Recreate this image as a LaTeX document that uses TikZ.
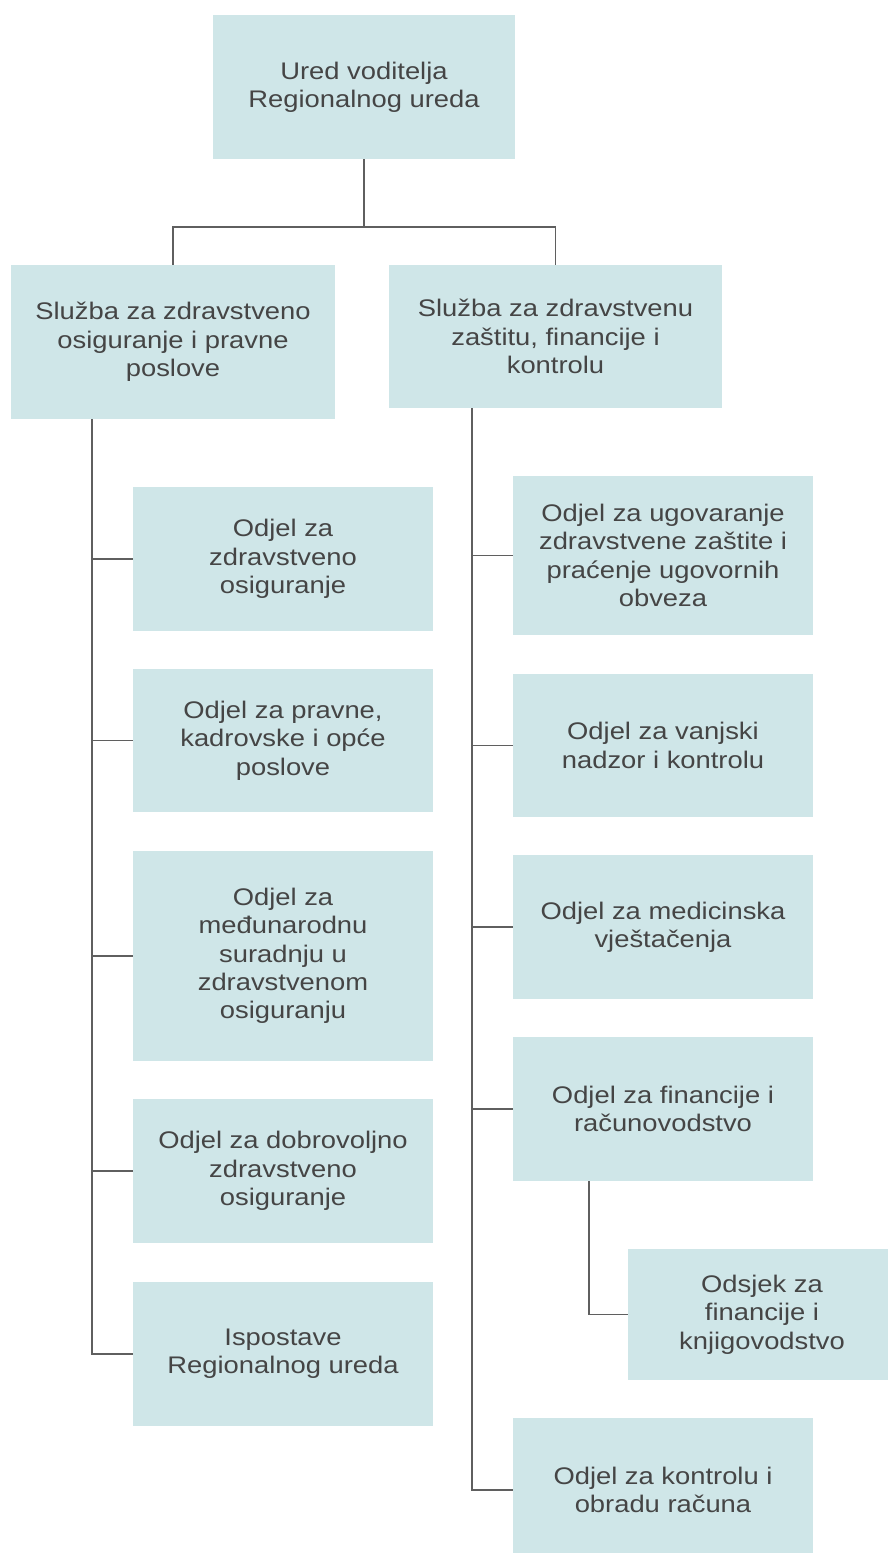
\documentclass[tikz,border=0pt]{standalone}
\usepackage{fontspec}
\setmainfont{Liberation Sans}[FakeStretch=1.14]
\definecolor{boxfill}{HTML}{CFE6E8}
\definecolor{txtcol}{HTML}{454545}
\definecolor{linecol}{HTML}{5F5F5F}
\begin{document}
\begin{tikzpicture}[x=1pt,y=-1pt,
  orgbox/.style={rectangle, fill=boxfill, draw=none, align=center, text=txtcol,
    font=\fontsize{24}{28.3}\selectfont, inner sep=0pt},
  conn/.style={draw=linecol, line width=1.6pt}]
\useasboundingbox (0,0) rectangle (888,1553);
% top
\node[orgbox, minimum width=302pt, minimum height=144pt] (top) at (364,87) {Ured voditelja\\Regionalnog ureda};
% services
\node[orgbox, minimum width=324pt, minimum height=154pt] (L) at (173,342) {Služba za zdravstveno\\osiguranje i pravne\\poslove};
\node[orgbox, minimum width=333pt, minimum height=143pt] (R) at (555.5,336.5) {Služba za zdravstvenu\\zaštitu, financije i\\kontrolu};
% left children
\node[orgbox, minimum width=300pt, minimum height=144pt] (L1) at (283,559) {Odjel za\\zdravstveno\\osiguranje};
\node[orgbox, minimum width=300pt, minimum height=143pt] (L2) at (283,740.5) {Odjel za pravne,\\kadrovske i opće\\poslove};
\node[orgbox, minimum width=300pt, minimum height=210pt] (L3) at (283,956) {Odjel za\\međunarodnu\\suradnju u\\zdravstvenom\\osiguranju};
\node[orgbox, minimum width=300pt, minimum height=144pt] (L4) at (283,1171) {Odjel za dobrovoljno\\zdravstveno\\osiguranje};
\node[orgbox, minimum width=300pt, minimum height=144pt] (L5) at (283,1354) {Ispostave\\Regionalnog ureda};
% right children
\node[orgbox, minimum width=300pt, minimum height=159pt] (R1) at (663,555.5) {Odjel za ugovaranje\\zdravstvene zaštite i\\praćenje ugovornih\\obveza};
\node[orgbox, minimum width=300pt, minimum height=143pt] (R2) at (663,745.5) {Odjel za vanjski\\nadzor i kontrolu};
\node[orgbox, minimum width=300pt, minimum height=144pt] (R3) at (663,927) {Odjel za medicinska\\vještačenja};
\node[orgbox, minimum width=300pt, minimum height=144pt] (R4) at (663,1109) {Odjel za financije i\\računovodstvo};
\node[orgbox, minimum width=268pt, minimum height=131pt] (S) at (762,1314.5) {Odsjek za\\financije i\\knjigovodstvo};
\node[orgbox, minimum width=300pt, minimum height=144pt] (R5) at (663,1490) {Odjel za kontrolu i\\obradu računa};
% junction coordinates
\coordinate (jt) at (364,227);
\coordinate (lt) at (92,0);
\coordinate (rt) at (472,0);
\coordinate (st) at (589,0);
% top connectors
\draw[conn] (top.south) -- (jt);
\draw[conn] (L.north) -- (L.north |- jt) -- (R.north |- jt) -- (R.north);
% left trunk
\draw[conn] (L.south -| lt) -- (lt |- L5.west) -- (L5.west);
\foreach \n in {L1,L2,L3,L4} { \draw[conn] (lt |- \n.west) -- (\n.west); }
% right trunk
\draw[conn] (R.south -| rt) -- (rt |- R5.west) -- (R5.west);
\foreach \n in {R1,R2,R3,R4} { \draw[conn] (rt |- \n.west) -- (\n.west); }
% sub section
\draw[conn] (R4.south -| st) -- (st |- S.west) -- (S.west);
\end{tikzpicture}
\end{document}
